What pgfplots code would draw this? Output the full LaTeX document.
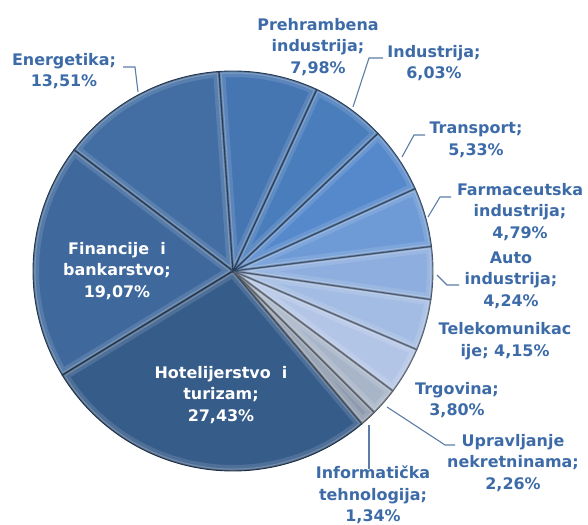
\documentclass[border=0pt]{standalone}
\usepackage{pgfplots}
\usepackage{pgfplotstable}
\pgfplotsset{compat=1.18}
\usepackage{fontspec}
\setmainfont{DejaVu Sans}
\definecolor{lab}{HTML}{3D6BA8}
\definecolor{lead}{HTML}{5B7DA6}
\definecolor{c0}{HTML}{436EA3}
\definecolor{c1}{HTML}{3F699D}
\definecolor{c2}{HTML}{365C8A}
\definecolor{c3}{HTML}{8E9AAE}
\definecolor{c4}{HTML}{A8B4C8}
\definecolor{c5}{HTML}{B3C5E6}
\definecolor{c6}{HTML}{A3BCE3}
\definecolor{c7}{HTML}{8DAEDF}
\definecolor{c8}{HTML}{6E9AD5}
\definecolor{c9}{HTML}{5689CB}
\definecolor{c10}{HTML}{4A7DBC}
\definecolor{c11}{HTML}{4676B2}
\tikzset{lbl/.style={font=\bfseries\fontsize{16}{21.5}\selectfont,align=center,text=lab,inner sep=0pt}}
\pgfplotstableread{
name value
Energetika 13.51
Financije 19.07
Hotelijerstvo 27.43
Informaticka 1.34
Upravljanje 2.26
Trgovina 3.80
Telekomunikacije 4.15
Auto 4.24
Farmaceutska 4.79
Transport 5.33
Industrija 6.03
Prehrambena 7.98
}\piedata
\begin{document}
\begin{tikzpicture}
\begin{axis}[x=1bp,y=1bp,xmin=0,xmax=588,ymin=0,ymax=525,
  hide axis,scale only axis,clip=false,disabledatascaling]
\path (axis cs:0,0) rectangle (axis cs:588,525);
\pgfplotstablegetrowsof{\piedata}
\pgfmathtruncatemacro{\N}{\pgfplotsretval-1}
\def\tot{0}
\pgfplotsforeachungrouped \i in {0,...,\N}{%
  \pgfplotstablegetelem{\i}{value}\of\piedata
  \pgfmathsetmacro{\t}{\tot+\pgfplotsretval}%
  \global\let\tot\t
}
\def\cum{94}
\pgfplotsforeachungrouped \i in {0,...,\N}{%
  \pgfplotstablegetelem{\i}{value}\of\piedata
  \pgfmathsetmacro{\b}{\cum+360*\pgfplotsretval/\tot}%
  \pgfmathsetmacro{\sx}{233+200*cos(\cum)}%
  \pgfmathsetmacro{\sy}{254+200*sin(\cum)}%
  \edef\pth{(axis cs:233,254) -- (axis cs:\sx,\sy) arc[start angle=\cum,end angle=\b,radius=200bp] -- cycle}%
  \edef\cmd{\noexpand\begin{scope}\noexpand\clip \pth;
     \noexpand\fill[c\i] \pth;
     \noexpand\draw[white,opacity=0.12,line width=12bp] \pth;
     \noexpand\draw[white,opacity=0.2,line width=5bp] \pth;
     \noexpand\draw[black,opacity=0.25,line width=2.5bp] \pth;
     \noexpand\end{scope}
     \noexpand\draw[c\i!50!black,line width=0.9bp] \pth;}%
  \cmd
  \global\let\cum\b
}
% leader lines
\draw[lead,line width=1.1bp] (axis cs:123,458) -- (axis cs:135,458) -- (axis cs:138,433);
\draw[lead,line width=1.1bp] (axis cs:383,467) -- (axis cs:369,467) -- (axis cs:353,418);
\draw[lead,line width=1.1bp] (axis cs:425,390) -- (axis cs:414,390) -- (axis cs:402,368);
\draw[lead,line width=1.1bp] (axis cs:451,328) -- (axis cs:440,328) -- (axis cs:428,308);
\draw[lead,line width=1.1bp] (axis cs:459,240) -- (axis cs:447,240) -- (axis cs:437,250);
\draw[lead,line width=1.1bp] (axis cs:455,80) -- (axis cs:445,80) -- (axis cs:387,118);
\draw[lead,line width=1.1bp] (axis cs:369,56) -- (axis cs:369,100);
% labels
\node[lbl] at (axis cs:64,454) {Energetika;\\13,51\%};
\node[lbl] at (axis cs:318,478) {Prehrambena\\industrija;\\7,98\%};
\node[lbl] at (axis cs:434,462) {Industrija;\\6,03\%};
\node[lbl] at (axis cs:476,385) {Transport;\\5,33\%};
\node[lbl] at (axis cs:520,313) {Farmaceutska\\industrija;\\4,79\%};
\node[lbl] at (axis cs:511,245) {Auto\\industrija;\\4,24\%};
\node[lbl] at (axis cs:505,184) {Telekomunikac\\ije; 4,15\%};
\node[lbl] at (axis cs:457,125) {Trgovina;\\3,80\%};
\node[lbl] at (axis cs:513,62) {Upravljanje\\nekretninama;\\2,26\%};
\node[lbl] at (axis cs:373,30) {Informatička\\tehnologija;\\1,34\%};
\node[lbl,text=white] at (axis cs:117,254) {Financije\ \ i\\bankarstvo;\\19,07\%};
\node[lbl,text=white] at (axis cs:221,130) {Hotelijerstvo\ \ i\\turizam;\\27,43\%};
\end{axis}
\end{tikzpicture}
\end{document}
